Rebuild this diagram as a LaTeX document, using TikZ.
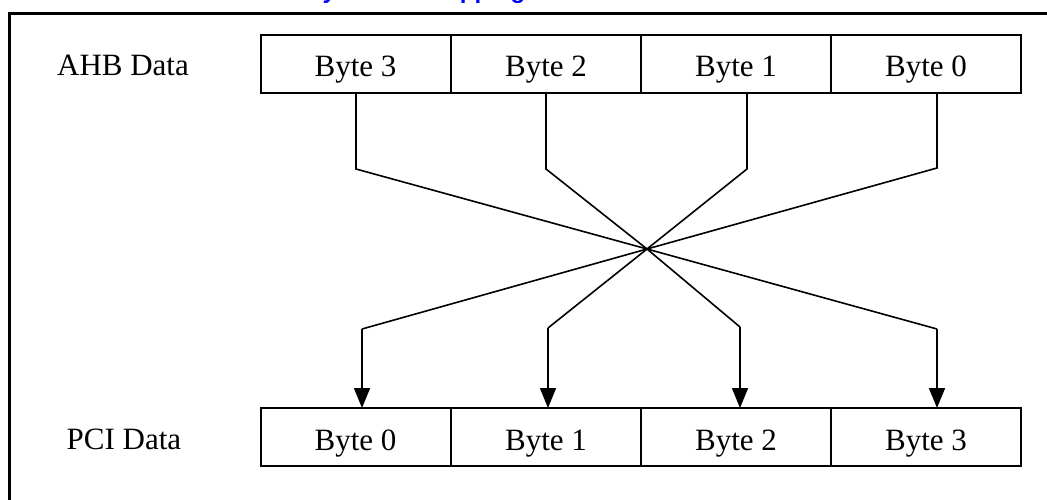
\documentclass[tikz,border=0pt]{standalone}
\usepackage{fontspec}
\setmainfont{Liberation Serif}
\newfontfamily\titlefont{Liberation Sans}
\usetikzlibrary{arrows.meta}
\definecolor{titleblue}{RGB}{0,0,255}
\begin{document}
\begin{tikzpicture}[x=1pt,y=-1pt,
  bytebox/.style={draw=black, line width=2pt, minimum width=190pt, minimum height=58pt,
    inner sep=0pt, outer sep=0pt, text height=26pt, text depth=0pt,
    font=\fontsize{31}{36}\selectfont},
  rowlabel/.style={inner sep=0pt, anchor=base, font=\fontsize{31}{36}\selectfont},
  conn/.style={draw=black, line width=1.6pt},
  arr/.style={conn, -{Triangle[length=20pt,width=16pt]}}]
\useasboundingbox (0,0) rectangle (1047,500);
\begin{scope}
\clip (0,0) rectangle (1047,500);
% clipped heading (only descenders show)
\node[anchor=base west, inner sep=0pt, text=titleblue,
  font=\titlefont\bfseries\fontsize{24}{28}\selectfont] (title) at (305,-1.5) {Byte Lane Mapping};
% outer frame (open to right and bottom)
\draw[line width=3pt] (1060,14) -- (9,14) -- (9,520);
\end{scope}
% AHB row
\node[rowlabel] (ahb) at (123,76) {AHB Data};
\node[bytebox] (a3) at (355.5,64) {Byte 3};
\node[bytebox] (a2) at (546,64) {Byte 2};
\node[bytebox] (a1) at (736,64) {Byte 1};
\node[bytebox] (a0) at (926,64) {Byte 0};
% PCI row
\node[rowlabel] (pci) at (124,449) {PCI Data};
\node[bytebox] (b0) at (355.5,437) {Byte 0};
\node[bytebox] (b1) at (546,437) {Byte 1};
\node[bytebox] (b2) at (736,437) {Byte 2};
\node[bytebox] (b3) at (926,437) {Byte 3};
% connector points
\coordinate (s3) at ([xshift=0.5pt]a3.south);
\coordinate (s2) at (a2.south);
\coordinate (s1) at ([xshift=11pt]a1.south);
\coordinate (s0) at ([xshift=11pt]a0.south);
\coordinate (e0) at ([xshift=6.5pt]b0.north);
\coordinate (e1) at ([xshift=2pt]b1.north);
\coordinate (e2) at ([xshift=4pt]b2.north);
\coordinate (e3) at ([xshift=11pt]b3.north);
\coordinate (X) at (647,249);
\coordinate (t3) at (356,169);
\coordinate (t2) at (546,169);
\coordinate (t1) at (747,169);
\coordinate (t0) at (937,168);
\coordinate (u3) at (937,329);
\coordinate (u2) at (740,327);
\coordinate (u1) at (548,328);
\coordinate (u0) at (362,329);
% connectors
\draw[conn] (s3) -- (t3) -- (X) -- (u3);
\draw[arr] (u3) -- (e3);
\draw[conn] (s2) -- (t2) -- (X) -- (u2);
\draw[arr] (u2) -- (e2);
\draw[conn] (s1) -- (t1) -- (X) -- (u1);
\draw[arr] (u1) -- (e1);
\draw[conn] (s0) -- (t0) -- (X) -- (u0);
\draw[arr] (u0) -- (e0);
\end{tikzpicture}
\end{document}
